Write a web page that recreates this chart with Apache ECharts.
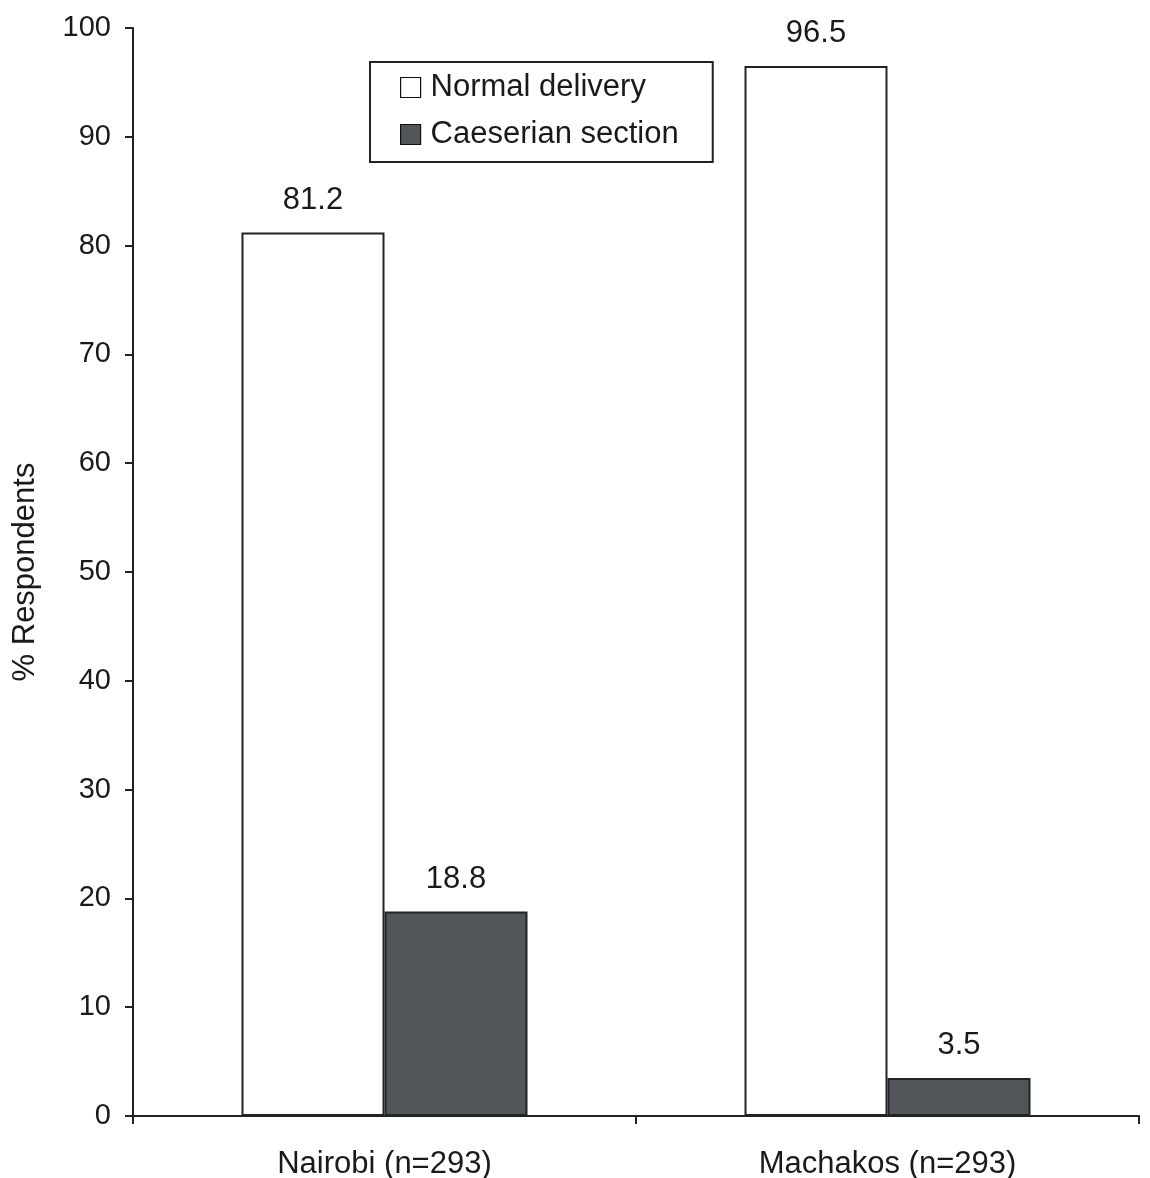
<!DOCTYPE html>
<html><head><meta charset="utf-8">
<script src="https://cdn.jsdelivr.net/npm/echarts@6/dist/echarts.min.js"></script>
<style>html,body{margin:0;padding:0;background:#fff}#c{width:1150px;height:1178px}</style>
</head><body><div id="c"></div>
<script>
const categories = ['Nairobi (n=293)', 'Machakos (n=293)'];
const normalDelivery = [81.2, 96.5];
const caesarianSection = [18.8, 3.5];
const seriesNames = ['Normal delivery', 'Caeserian section'];
const yTicks = { min: 0, max: 100, interval: 10 };

const font = '"Liberation Sans", Arial, sans-serif';
const chart = echarts.init(document.getElementById('c'));
chart.setOption({
  animation: false,
  textStyle: { fontFamily: font, color: '#1a1a1a' },
  grid: { left: 133, right: 11, top: 28, bottom: 62, outerBoundsMode: 'none', containLabel: false },
  legend: {
    orient: 'vertical', left: 370, top: 62,
    padding: [10, 34, 12, 30], itemGap: 16,
    icon: 'rect',
    itemWidth: 20, itemHeight: 20, itemStyle: { borderWidth: 1.2, borderColor: '#111' },
    borderColor: '#222', borderWidth: 2, backgroundColor: '#fff',
    textStyle: { fontSize: 31, fontFamily: font, color: '#1a1a1a', lineHeight: 30, padding: [0, 0, 0, 5] },
    data: seriesNames
  },
  xAxis: {
    type: 'category', data: categories,
    axisLine: { lineStyle: { color: '#222', width: 2 } },
    axisTick: { show: true, length: 8, lineStyle: { color: '#222', width: 2 } },
    axisLabel: { fontSize: 31, color: '#1a1a1a', margin: 33, fontFamily: font },
    splitLine: { show: false }
  },
  yAxis: {
    type: 'value', min: yTicks.min, max: yTicks.max, interval: yTicks.interval,
    name: '% Respondents', nameLocation: 'middle', nameGap: 92,
    nameTextStyle: { fontSize: 31, color: '#1a1a1a', fontFamily: font },
    axisLine: { show: true, lineStyle: { color: '#222', width: 2 } },
    axisTick: { show: true, length: 8, lineStyle: { color: '#222', width: 2 } },
    axisLabel: { fontSize: 29, color: '#1a1a1a', margin: 22, fontFamily: font },
    splitLine: { show: false }
  },
  series: [
    {
      name: seriesNames[0], type: 'bar', data: normalDelivery,
      barWidth: 143, barGap: '0%',
      itemStyle: { color: '#ffffff', borderColor: '#222', borderWidth: 2 },
      label: { show: true, position: 'top', distance: 17, fontSize: 31, color: '#1a1a1a', fontFamily: font }
    },
    {
      name: seriesNames[1], type: 'bar', data: caesarianSection,
      barWidth: 143, barGap: '0%',
      itemStyle: { color: '#52565a', borderColor: '#1f2424', borderWidth: 2 },
      label: { show: true, position: 'top', distance: 17, fontSize: 31, color: '#1a1a1a', fontFamily: font }
    }
  ]
});
</script></body></html>
